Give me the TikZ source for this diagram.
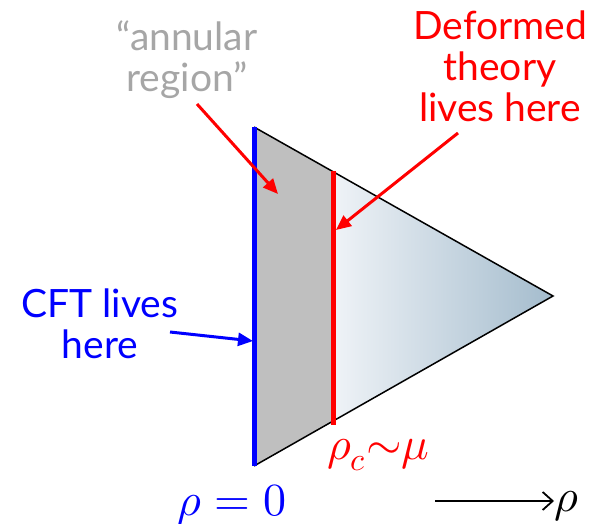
\documentclass[tikz,border=0pt]{standalone}
\usepackage{unicode-math}
\setmainfont{Lato}
\setmathfont{Latin Modern Math}
\usepackage{tikz}
\usetikzlibrary{arrows.meta, positioning}

\definecolor{cftblue}{RGB}{0,0,255}
\definecolor{defred}{RGB}{255,0,0}
\definecolor{annulargray}{RGB}{166,166,166}
\definecolor{regiongray}{RGB}{191,191,191}
\definecolor{bulklight}{RGB}{239,243,247}
\definecolor{bulkdark}{RGB}{164,188,205}

\begin{document}
\begin{tikzpicture}[
    x=1pt, y=-1pt,
    label/.style={align=center, inner sep=0pt, font=\fontsize{39}{41}\selectfont},
    pointer/.style={-{Triangle[length=15pt,width=13pt]}, line width=3pt},
    mathlabel/.style={inner sep=0pt, anchor=base, font=\fontsize{46}{50}\selectfont}
]
\useasboundingbox (0,0) rectangle (600,524);

% triangle corners and the cut-off
\coordinate (top) at (254,127);
\coordinate (bot) at (254,466);
\coordinate (tip) at (553,296);
\coordinate (ctop) at (333,171.6);
\coordinate (cbot) at (333,421.4);

% annular region and the bulk
\fill[regiongray] (top) -- (ctop) -- (cbot) -- (bot) -- cycle;
\shade[left color=bulklight, right color=bulkdark] (ctop) -- (tip) -- (cbot) -- cycle;
\draw[line width=1.5pt, line join=miter] (top) -- (tip) -- (bot);
\draw[cftblue, line width=5pt] (top) -- (bot);
\draw[defred, line width=5pt] (333,171) -- (333,425);

% labels
\node[label, annulargray] (annular) at (187,60) {``annular\\region''};
\node[label, defred] (deformed) at (500,66) {Deformed\\theory\\lives here};
\node[label, cftblue] (cft) at (100,324) {CFT lives\\here};

\node[mathlabel, cftblue] (rhozero) at (232,515) {$\rho = 0$};
\node[mathlabel, defred, anchor=base west] (rhoc) at (327,459) {$\rho_c{\sim}\mu$};
\node[mathlabel, anchor=base west] (rho) at (554,511) {$\rho$};

% arrows
\coordinate (annulartail) at (197,104);
\coordinate (annularhead) at (278,194);
\coordinate (deftail) at (458,133);
\coordinate (defhead) at (336,230);
\coordinate (cfttail) at (170,332);
\coordinate (cfthead) at (253,341);
\coordinate (rhotail) at (435,501);

\draw[pointer, defred] (annulartail) -- (annularhead);
\draw[pointer, defred] (deftail) -- (defhead);
\draw[pointer, cftblue] (cfttail) -- (cfthead);
\draw[-{Straight Barb[length=10pt,width=18pt]}, line width=1.8pt] (rhotail) -- (rhotail -| rho.west);
\end{tikzpicture}
\end{document}
